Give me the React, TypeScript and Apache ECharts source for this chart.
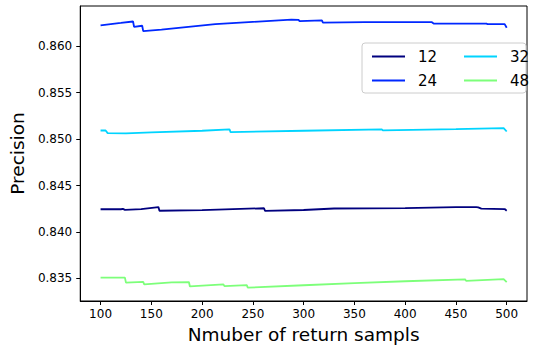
import React, { useEffect, useRef } from 'react';
import * as echarts from 'echarts';

const xTicks = [100, 150, 200, 250, 300, 350, 400, 450, 500];
const yTicks = [0.835, 0.84, 0.845, 0.85, 0.855, 0.86];
const seriesNames = ['12', '24', '32', '48'];
const seriesColors = ['#00007f', '#0028ff', '#00d4ff', '#7dff7a'];

const s12x = [100, 120, 122, 124, 140, 157, 158, 200, 261, 262, 300, 330, 400, 450, 470, 472, 475, 498, 500];
const s12y = [0.84244, 0.84244, 0.84248, 0.84238, 0.84245, 0.84268, 0.84228, 0.84235, 0.84255, 0.84226, 0.84236, 0.84252, 0.84256, 0.84268, 0.84268, 0.84264, 0.8425, 0.84246, 0.84228];

const s24x = [100, 110, 120, 132, 133, 141, 142, 160, 213, 250, 288, 295, 296, 318, 319, 360, 426, 428, 480, 481, 498, 500];
const s24y = [0.86225, 0.8624, 0.86252, 0.86268, 0.8621, 0.86222, 0.86165, 0.8618, 0.8624, 0.86264, 0.86288, 0.86285, 0.86272, 0.8628, 0.86255, 0.86262, 0.86262, 0.86246, 0.86246, 0.8624, 0.8624, 0.862];

const s32x = [100, 105, 107, 125, 150, 200, 227, 228, 300, 377, 378, 450, 497, 500];
const s32y = [0.85093, 0.85093, 0.85065, 0.85063, 0.85072, 0.8509, 0.85106, 0.85076, 0.8509, 0.85105, 0.85095, 0.85108, 0.85118, 0.85082];

const s48x = [100, 124, 125, 142, 143, 170, 187, 188, 221, 222, 244, 245, 300, 350, 400, 459, 460, 497, 500];
const s48y = [0.83507, 0.83507, 0.83453, 0.83462, 0.83435, 0.83455, 0.83459, 0.83412, 0.83434, 0.83415, 0.83426, 0.83399, 0.83425, 0.83448, 0.83468, 0.83488, 0.83473, 0.83491, 0.83459];

const allX = [s12x, s24x, s32x, s48x];
const allY = [s12y, s24y, s32y, s48y];

const FONT = 'DejaVu Sans';

export default function App() {
  const ref = useRef<HTMLDivElement>(null);
  useEffect(() => {
    if (!ref.current) return;
    const chart = echarts.init(ref.current, null, { renderer: 'svg' });
    const series = seriesNames.map((name, i) => ({
      name,
      type: 'line',
      symbol: 'none',
      data: allX[i].map((x, j) => [x, allY[i][j]]),
      lineStyle: { color: seriesColors[i], width: 1.8 },
      itemStyle: { color: seriesColors[i] },
    }));
    const legendCommon = {
      orient: 'vertical',
      top: 44,
      icon: 'rect',
      itemWidth: 33,
      itemHeight: 2,
      itemGap: 9,
      z: 5,
      textStyle: { fontFamily: FONT, fontSize: 15, color: '#000', padding: [0, 0, 0, 8] },
    };
    chart.setOption({
      animation: false,
      backgroundColor: '#fff',
      grid: { left: 80, right: 12, top: 6, bottom: 49, show: true, borderColor: '#000', borderWidth: 1, backgroundColor: 'transparent' },
      xAxis: {
        type: 'value',
        min: 80,
        max: 520,
        name: 'Nmuber of return sampls',
        nameLocation: 'middle',
        nameGap: 24,
        nameTextStyle: { fontFamily: FONT, fontSize: 18.5, color: '#000' },
        axisLine: { show: true, lineStyle: { color: '#000', width: 1 } },
        axisTick: { show: true, customValues: xTicks, length: 4, lineStyle: { color: '#000' } },
        axisLabel: { customValues: xTicks, fontFamily: FONT, fontSize: 12, color: '#000', margin: 7 },
        splitLine: { show: false },
      },
      yAxis: {
        type: 'value',
        min: 0.83255,
        max: 0.86435,
        name: 'Precision',
        nameLocation: 'middle',
        nameGap: 41,
        nameTextStyle: { fontFamily: FONT, fontSize: 18.5, color: '#000' },
        axisLine: { show: true, lineStyle: { color: '#000', width: 1 } },
        axisTick: { show: true, customValues: yTicks, length: 4, lineStyle: { color: '#000' } },
        axisLabel: { customValues: yTicks, fontFamily: FONT, fontSize: 12, color: '#000', margin: 8, formatter: (v: number) => v.toFixed(3) },
        splitLine: { show: false },
      },
      graphic: [
        { type: 'rect', z: 3, shape: { x: 362, y: 43, width: 164, height: 50, r: 3 }, style: { fill: 'rgba(255,255,255,0.8)', stroke: '#cccccc', lineWidth: 1 } },
      ],
      legend: [
        { ...legendCommon, data: ['12', '24'], left: 367 },
        { ...legendCommon, data: ['32', '48'], left: 459 },
      ],
      series,
    });
    return () => chart.dispose();
  }, []);
  return <div ref={ref} style={{ position: 'absolute', left: 0, top: 0, width: 539, height: 350 }} />;
}
